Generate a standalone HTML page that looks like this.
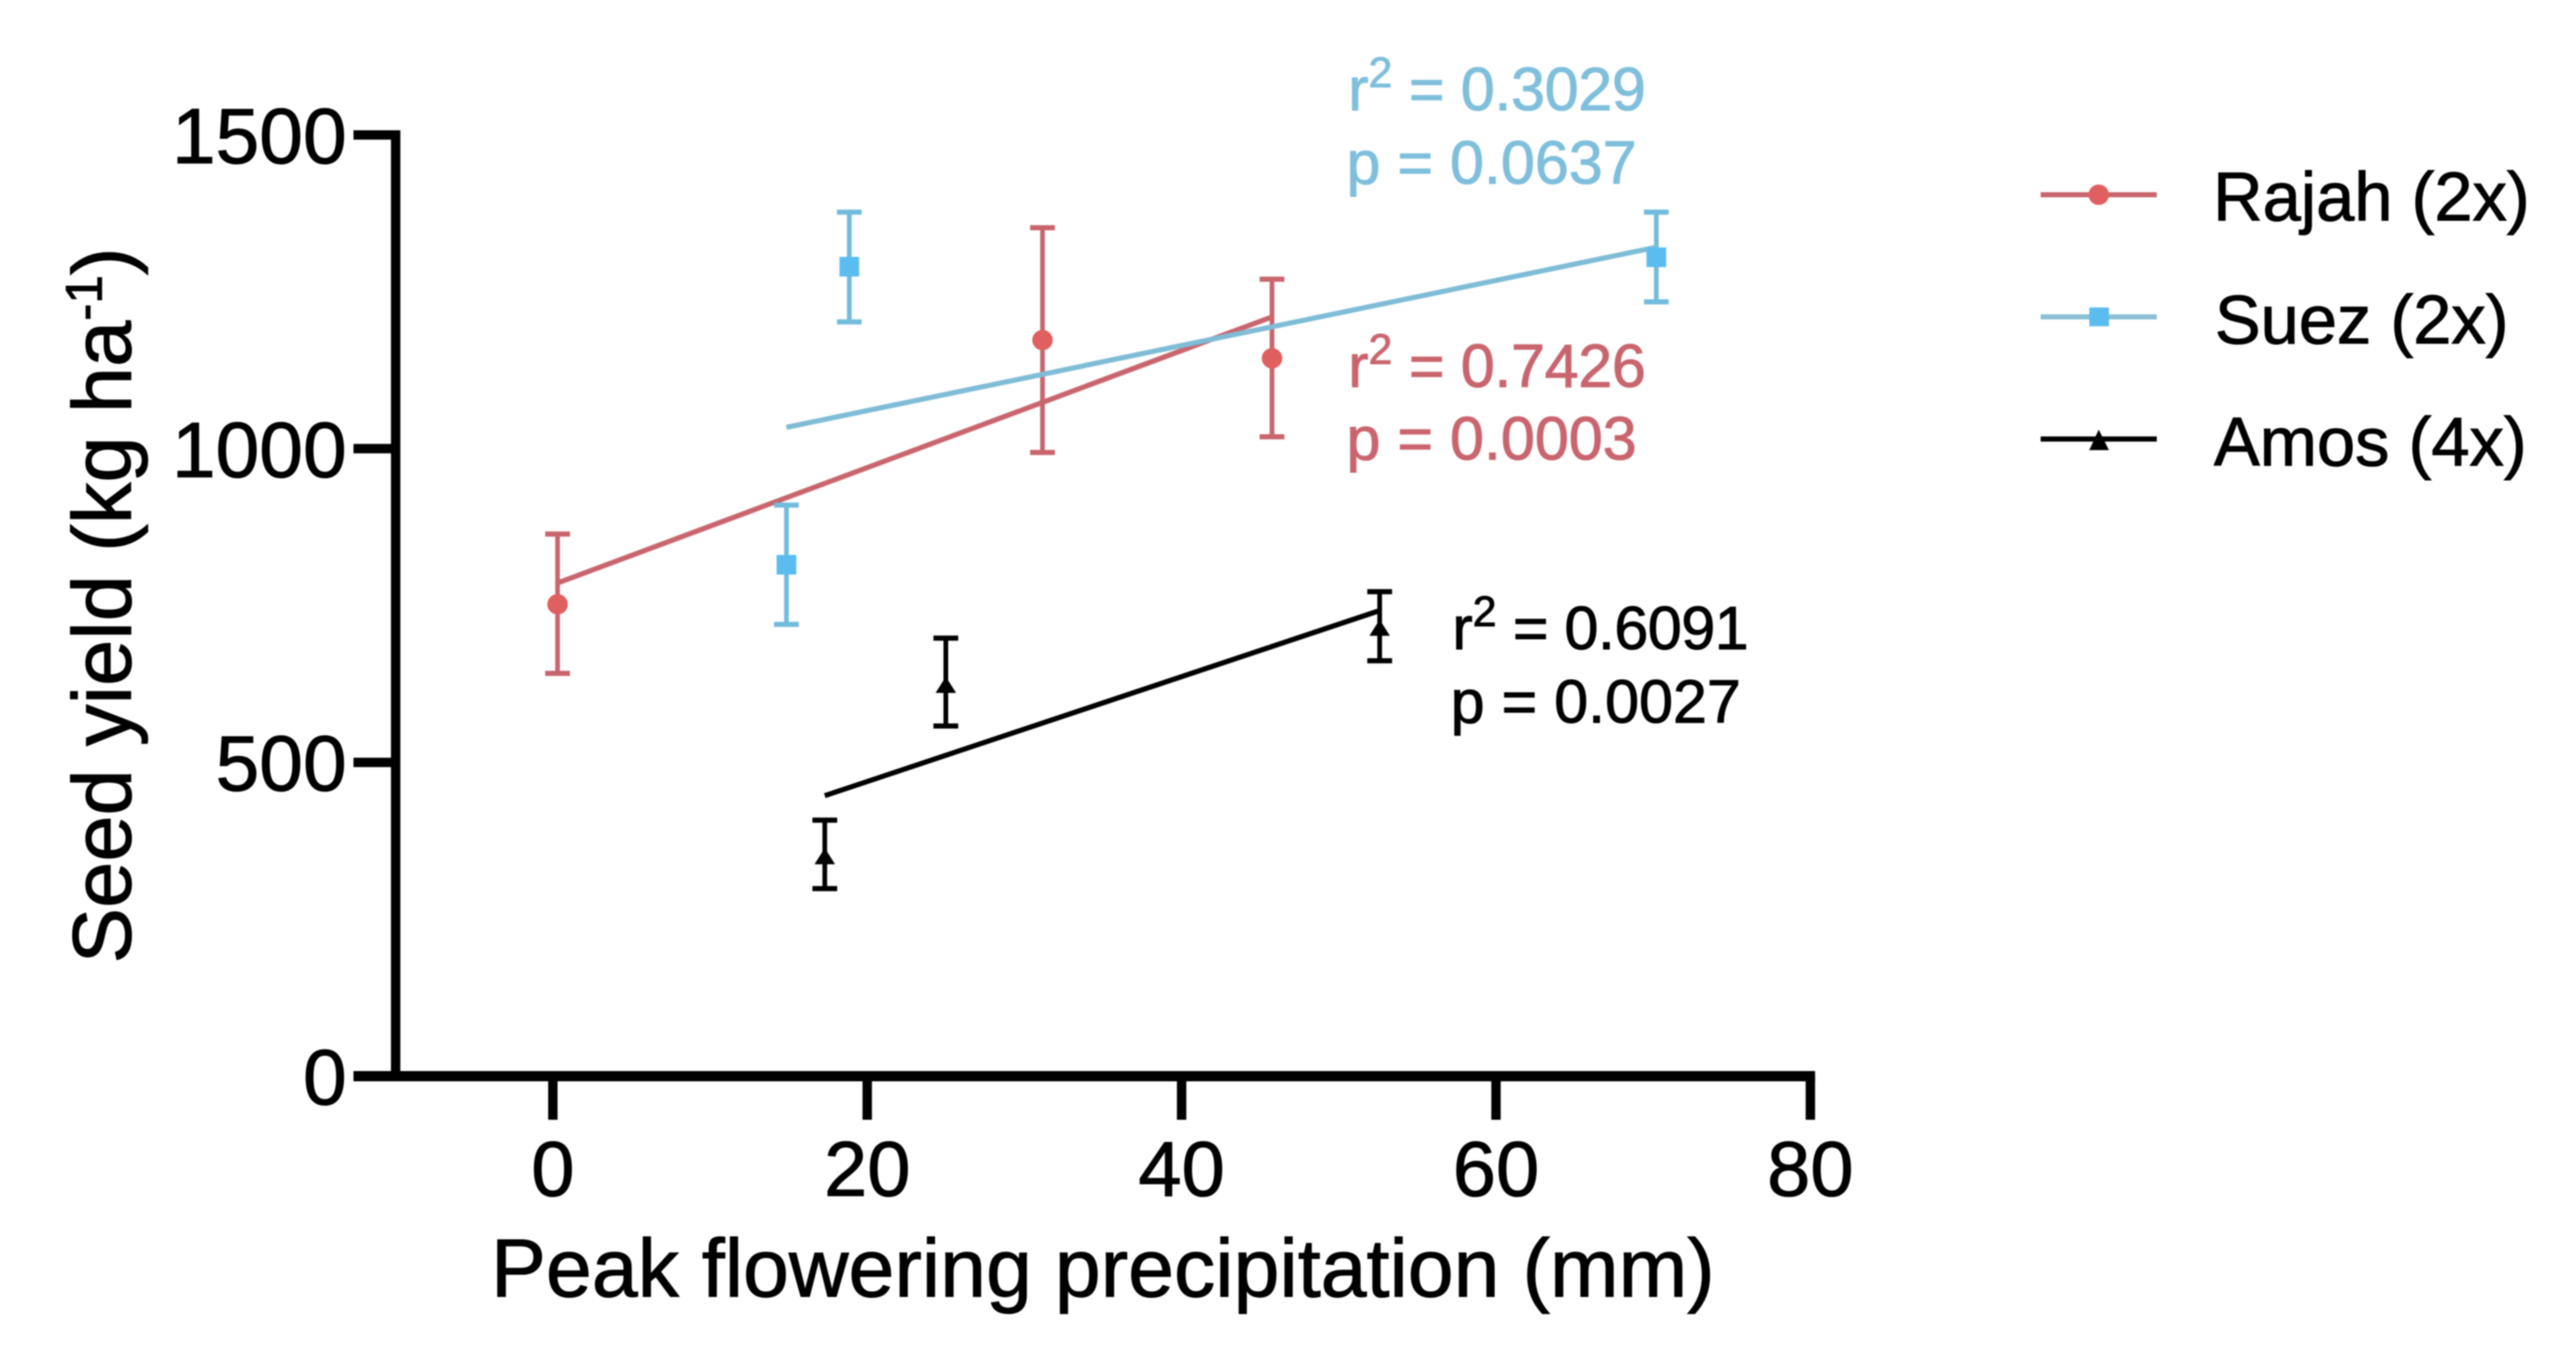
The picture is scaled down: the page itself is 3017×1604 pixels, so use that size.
<!DOCTYPE html>
<html lang="en">
<head>
<meta charset="utf-8">
<title>Seed yield vs peak flowering precipitation</title>
<style>
  html, body { margin: 0; padding: 0; background: #fff; }
  body { width: 3017px; height: 1604px; overflow: hidden; }
  svg { display: block; font-family: "Liberation Sans", Arial, sans-serif; filter: blur(0.7px); }
  text { fill: currentColor; stroke: currentColor; stroke-width: 1.1px; }
</style>
</head>
<body>
<svg id="chart" xmlns="http://www.w3.org/2000/svg" width="3017" height="1604" viewBox="0 0 3017 1604">
  <rect x="0" y="0" width="3017" height="1604" fill="#ffffff"/>
  <g id="axes"></g>
  <g id="series"></g>

  <text transform="translate(153,1128) rotate(-90)" font-size="97.4">Seed yield (kg ha<tspan font-size="60" dy="-34">-1</tspan><tspan dy="34">)</tspan></text>
  <text x="575" y="1518" font-size="96.6">Peak flowering precipitation (mm)</text>

  <g font-size="71.5" style="color:#7fbfdc">
    <text x="1579" y="129">r<tspan font-size="50" dy="-27">2</tspan><tspan dy="27" letter-spacing="-0.4"> = 0.3029</tspan></text>
    <text x="1577" y="215">p = 0.0637</text>
  </g>
  <g font-size="71.5" style="color:#c9656e">
    <text x="1579" y="453">r<tspan font-size="50" dy="-27">2</tspan><tspan dy="27" letter-spacing="-0.4"> = 0.7426</tspan></text>
    <text x="1577" y="538">p = 0.0003</text>
  </g>
  <g font-size="71.5" style="color:#000">
    <text x="1701" y="760">r<tspan font-size="50" dy="-27">2</tspan><tspan dy="27" letter-spacing="-0.6"> = 0.6091</tspan></text>
    <text x="1699" y="846">p = 0.0027</text>
  </g>

  <g>
    <g>
      <line x1="2390" y1="228" x2="2526" y2="228" stroke="#c9656e" stroke-width="6"/>
      <circle cx="2458" cy="228" r="12" fill="#e0605f"/>
      <text x="2592" y="258" font-size="80.4">Rajah (2x)</text>
    </g>
    <g>
      <line x1="2390" y1="371" x2="2526" y2="371" stroke="#8cc0d6" stroke-width="6"/>
      <rect x="2447" y="360" width="23" height="22" fill="#5bbcf0"/>
      <text x="2594" y="402" font-size="80.4">Suez (2x)</text>
    </g>
    <g>
      <line x1="2390" y1="514" x2="2526" y2="514" stroke="#000" stroke-width="6"/>
      <polygon points="2458,503 2470,527 2447,527" fill="#000"/>
      <text x="2593" y="545" font-size="80.4">Amos (4x)</text>
    </g>
  </g>
</svg>
<script>
const xTicks = [0, 20, 40, 60, 80];
const yTicks = [0, 500, 1000, 1500];

const rajahX = [0.3, 31.15, 45.75];
const rajahY = [752, 1173, 1144];
const rajahHigh = [864, 1352, 1270];
const rajahLow = [642, 994, 1019];
const rajahFitX = [0.3, 45.75];
const rajahFitY = [786, 1210];

const suezX = [14.86, 18.86, 70.2];
const suezY = [815, 1290, 1305];
const suezHigh = [910, 1377, 1377];
const suezLow = [720, 1202, 1234];
const suezFitX = [14.86, 70.2];
const suezFitY = [1034, 1321];

const amosX = [17.3, 25.0, 52.6];
const amosY = [350, 623, 714];
const amosHigh = [408, 698, 772];
const amosLow = [299, 558, 662];
const amosFitX = [17.3, 52.6];
const amosFitY = [447, 742];

const SVG_NS = 'http://www.w3.org/2000/svg';
const xAt = v => 647.5 + 18.41 * v;
const yAt = v => 1260 - 0.7347 * v;
const xMin = -10;
const xMax = 80;
const yMax = 1500;

function make(tag, attrs, parent) {
  const node = document.createElementNS(SVG_NS, tag);
  Object.keys(attrs).forEach(k => node.setAttribute(k, attrs[k]));
  parent.appendChild(node);
  return node;
}

const axes = document.getElementById('axes');
const seriesLayer = document.getElementById('series');

const yAxisLine = make('line', { x1: xAt(xMin), x2: xAt(xMin), y1: yAt(yMax) - 5.5, y2: yAt(0), stroke: '#000', 'stroke-width': 11 }, axes);



const xAxisLine = make('line', { x1: 414, x2: xAt(xMax) + 5.5, y1: yAt(0), y2: yAt(0), stroke: '#000', 'stroke-width': 12 }, axes);



yTicks.forEach(v => {
  const tick = make('line', { x1: 414, x2: xAt(xMin), y1: yAt(v), y2: yAt(v), stroke: '#000', 'stroke-width': 11 }, axes);
  
  
  const label = make('text', { x: 406, y: yAt(v) + 33, 'text-anchor': 'end', 'font-size': 92 }, axes);
  
  
  label.textContent = String(v);
});

xTicks.forEach(v => {
  const tick = make('line', { x1: xAt(v), x2: xAt(v), y1: yAt(0), y2: 1311, stroke: '#000', 'stroke-width': 11 }, axes);
  
  
  const label = make('text', { x: xAt(v), y: 1400, 'text-anchor': 'middle', 'font-size': 91 }, axes);
  
  
  label.textContent = String(v);
});

function drawErrorBars(xs, highs, lows, color, group) {
  xs.forEach((x, i) => {
    const px = xAt(x);
    const stem = make('line', { x1: px, x2: px, y1: yAt(highs[i]), y2: yAt(lows[i]), stroke: color, 'stroke-width': 5.5 }, group);
    
    
    const capTop = make('line', { x1: px - 14.5, x2: px + 14.5, y1: yAt(highs[i]), y2: yAt(highs[i]), stroke: color, 'stroke-width': 6 }, group);
    
    
    const capBottom = make('line', { x1: px - 14.5, x2: px + 14.5, y1: yAt(lows[i]), y2: yAt(lows[i]), stroke: color, 'stroke-width': 6 }, group);
    
    
  });
}

function drawFit(fx, fy, color, width, group) {
  const fit = make('line', { x1: xAt(fx[0]), y1: yAt(fy[0]), x2: xAt(fx[1]), y2: yAt(fy[1]), stroke: color, 'stroke-width': width }, group);
  
  
}

const rajahGroup = make('g', {}, seriesLayer);


const suezGroup = make('g', {}, seriesLayer);


const amosGroup = make('g', {}, seriesLayer);



drawErrorBars(rajahX, rajahHigh, rajahLow, '#c9656e', rajahGroup);
drawFit(rajahFitX, rajahFitY, '#c9656e', 6, rajahGroup);
rajahX.forEach((x, i) => {
  const dot = make('circle', { cx: xAt(x), cy: yAt(rajahY[i]), r: 12, fill: '#e0605f' }, rajahGroup);
  
  
});

drawErrorBars(suezX, suezHigh, suezLow, '#72bcdc', suezGroup);
drawFit(suezFitX, suezFitY, '#7fbcd6', 6, suezGroup);
suezX.forEach((x, i) => {
  const square = make('rect', { x: xAt(x) - 11.5, y: yAt(suezY[i]) - 11.5, width: 23, height: 23, fill: '#5bbcf0' }, suezGroup);
  
  
});

drawErrorBars(amosX, amosHigh, amosLow, '#000', amosGroup);
drawFit(amosFitX, amosFitY, '#000', 6, amosGroup);
amosX.forEach((x, i) => {
  const px = xAt(x);
  const py = yAt(amosY[i]);
  const tri = make('polygon', { points: `${px},${py - 10} ${px + 12},${py + 9} ${px - 12},${py + 9}`, fill: '#000' }, amosGroup);
  
  
});
</script>
</body>
</html>
